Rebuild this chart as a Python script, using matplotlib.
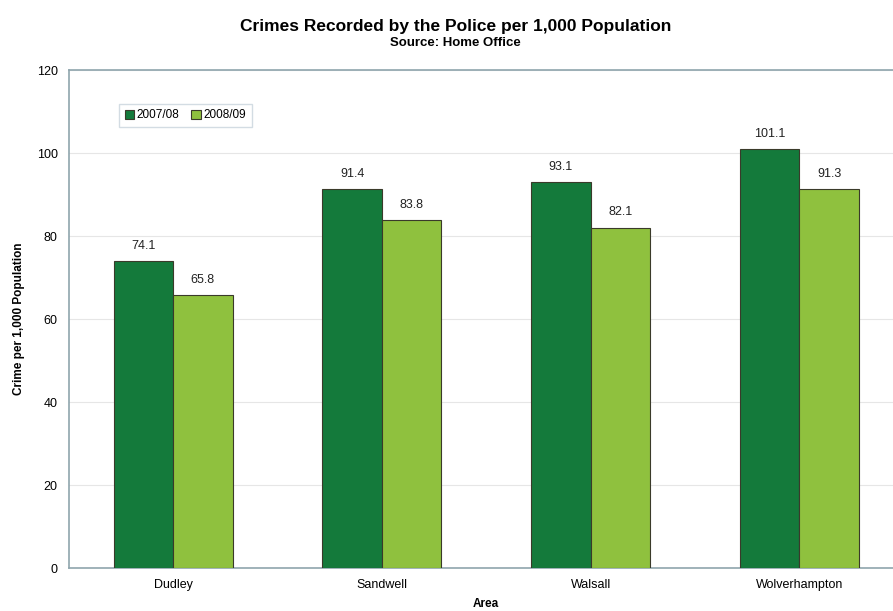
import matplotlib.pyplot as plt
import numpy as np

plt.rcParams["font.family"] = ["Liberation Sans", "DejaVu Sans"]

areas = ["Dudley", "Sandwell", "Walsall", "Wolverhampton"]
crime_0708 = [74.1, 91.4, 93.1, 101.1]
crime_0809 = [65.8, 83.8, 82.1, 91.3]
series_labels = ["2007/08", "2008/09"]

dark_green = "#147a3b"
light_green = "#8fc13e"

fig = plt.figure(figsize=(8.93, 6.11), dpi=100)
ax = fig.add_axes([0.077, 0.070, 0.935, 0.815])

x = np.arange(len(areas))
w = 0.285

b1 = ax.bar(x - w / 2, crime_0708, w, color=dark_green, edgecolor="#3a3a2a",
            linewidth=0.8, label=series_labels[0], zorder=3)
b2 = ax.bar(x + w / 2, crime_0809, w, color=light_green, edgecolor="#3a3a2a",
            linewidth=0.8, label=series_labels[1], zorder=3)

for bars, vals in [(b1, crime_0708), (b2, crime_0809)]:
    for bar, v in zip(bars, vals):
        ax.text(bar.get_x() + bar.get_width() / 2, v + 2.2, f"{v:.1f}",
                ha="center", va="bottom", fontsize=9, color="#222222")

ax.set_xlim(-0.5, 3.5)
ax.set_ylim(0, 120)
ax.set_yticks(range(0, 121, 20))
ax.set_xticks(x)
ax.set_xticklabels(areas)
ax.tick_params(axis="both", labelsize=9, length=0, pad=8)
ax.grid(axis="y", color="#e6e6e6", linewidth=0.8, zorder=0)

for s in ax.spines.values():
    s.set_color("#8fa5ad")
    s.set_linewidth(1.2)

# axis titles placed on the figure so they stay inside the canvas
fig.text(0.021, 0.478, "Crime per 1,000 Population", rotation=90,
         ha="center", va="center", fontsize=8.5, fontweight="bold")
fig.text(0.544, 0.012, "Area", ha="center", va="center",
         fontsize=8.5, fontweight="bold")

fig.text(0.51, 0.957, "Crimes Recorded by the Police per 1,000 Population",
         ha="center", va="center", fontsize=12.5, fontweight="bold")
fig.text(0.51, 0.929, "Source: Home Office", ha="center", va="center",
         fontsize=9.5, fontweight="bold")

leg = ax.legend(loc="upper left", bbox_to_anchor=(0.053, 0.945), ncol=2,
                fontsize=8.5, frameon=True, fancybox=False, handlelength=0.8,
                handleheight=0.8, handletextpad=0.2, columnspacing=1.0,
                borderpad=0.5)
leg.get_frame().set_edgecolor("#c8d4dc")
leg.get_frame().set_linewidth(1.0)

fig.savefig("out.png", dpi=100)
